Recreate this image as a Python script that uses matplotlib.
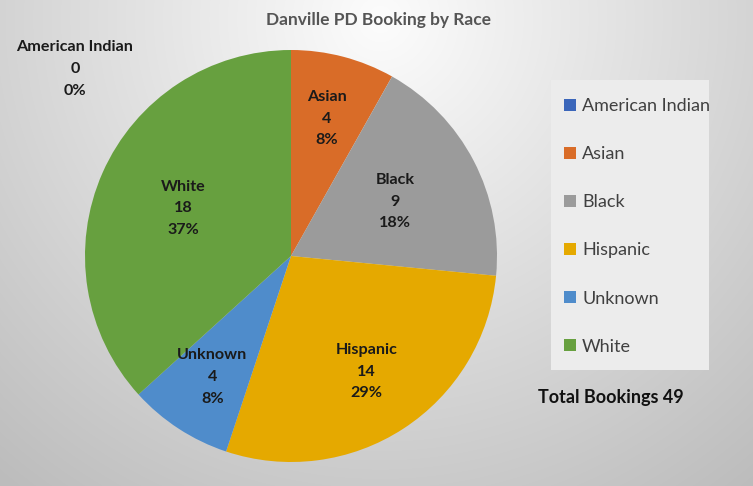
import numpy as np
import matplotlib.pyplot as plt
from matplotlib.patches import Rectangle

plt.rcParams["font.family"] = ["Lato", "DejaVu Sans"]

races = ["American Indian", "Asian", "Black", "Hispanic", "Unknown", "White"]
bookings = [0, 4, 9, 14, 4, 18]
colors = ["#3B66BA", "#D96C28", "#9B9B9B", "#E5A900", "#4F8CCB", "#67A03F"]
# radial position of the in-slice labels (fraction of radius)
label_r = [0.0, 0.69, 0.57, 0.67, 0.70, 0.57]

total = sum(bookings)
W, H = 753, 486
fig = plt.figure(figsize=(W / 100, H / 100), dpi=100)

# background gradient
bg = fig.add_axes([0, 0, 1, 1])
yy, xx = np.mgrid[0:H, 0:W]
d = np.sqrt(((xx - 380) / 520.0) ** 2 + ((yy - 20) / 520.0) ** 2)
shade = np.clip(0.99 - 0.22 * d, 0.74, 0.99)
bg.imshow(np.dstack([shade] * 3), extent=[0, W, H, 0], aspect="auto")
bg.set_xlim(0, W)
bg.set_ylim(H, 0)
bg.axis("off")
bg.add_patch(Rectangle((551, 80), 158, 290, facecolor="#ececec", edgecolor="none"))

# pie
cx, cy, R = 291, 256, 206
ax = fig.add_axes([(cx - R) / W, (H - cy - R) / H, 2 * R / W, 2 * R / H])
wedges, _ = ax.pie(bookings, colors=colors, startangle=90, counterclock=False,
                   radius=1, wedgeprops=dict(linewidth=0))
ax.set_xlim(-1, 1)
ax.set_ylim(-1, 1)
ax.set_aspect("equal")

for w, name, n, r in zip(wedges, races, bookings, label_r):
    if n == 0:
        continue
    ang = np.deg2rad((w.theta1 + w.theta2) / 2)
    ax.text(r * np.cos(ang), r * np.sin(ang),
            f"{name}\n{n}\n{n / total * 100:.0f}%",
            ha="center", va="center", fontsize=11.6, fontweight="bold",
            color="#1a1a1a", linespacing=1.7)

# zero-valued slice label placed outside
fig.text(75 / W, 1 - 69 / H, f"{races[0]}\n{bookings[0]}\n{bookings[0] / total * 100:.0f}%",
         ha="center", va="center", fontsize=11.6, fontweight="bold",
         color="#1a1a1a", linespacing=1.7)

fig.text(378 / W, 1 - 20 / H, "Danville PD Booking by Race", ha="center", va="center",
         fontsize=12.5, fontweight="bold", color="#555555")

fig.legend(wedges, races, loc="upper left", bbox_to_anchor=(555 / W, 1 - 89 / H),
           frameon=False, fontsize=13, labelcolor="#404040",
           handlelength=0.65, handleheight=0.65, handletextpad=0.35,
           labelspacing=1.78, borderpad=0)

fig.text(611 / W, 1 - 397 / H, f"Total Bookings {total}", ha="center", va="center",
         fontsize=13, fontweight="bold", color="#111111")

fig.savefig("out.png", dpi=100)
